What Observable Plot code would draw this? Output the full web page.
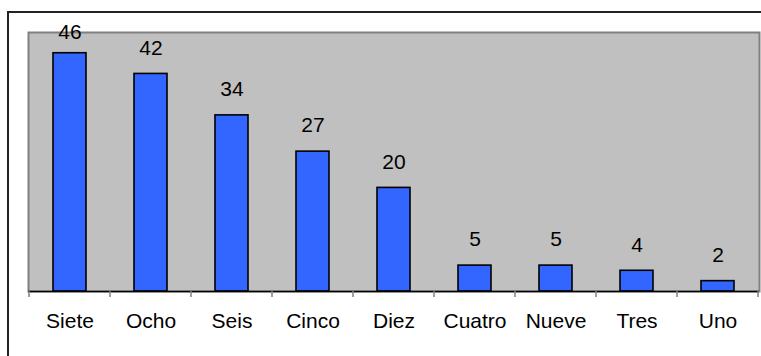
<!DOCTYPE html>
<html>
<head>
<meta charset="utf-8">
<script src="https://cdn.jsdelivr.net/npm/d3@7"></script>
<script src="https://cdn.jsdelivr.net/npm/@observablehq/plot@0.6"></script>
<style>
  html, body { margin: 0; padding: 0; background: #fff; }
  #wrap { position: relative; width: 761px; height: 356px; overflow: hidden; }
  #outer { position: absolute; left: 7px; top: 11px; right: -5px; bottom: -5px;
           border-left: 2px solid #222; border-top: 2px solid #222; pointer-events: none; }
</style>
</head>
<body>
<div id="wrap"><div id="outer"></div></div>
<script>
const categories = ["Siete", "Ocho", "Seis", "Cinco", "Diez", "Cuatro", "Nueve", "Tres", "Uno"];
const values = [46, 42, 34, 27, 20, 5, 5, 4, 2];
const yDomain = [0, 50];

const data = categories.map((c, i) => ({category: c, value: values[i]}));

// category boundary ticks, drawn through the band scale
function boundaryTicks(index, scales, vals, dims) {
  const g = d3.create("svg:g");
  const x = scales.x;
  const step = x.step ? x.step() : (dims.width - dims.marginLeft - dims.marginRight) / categories.length;
  const pad = (step - x.bandwidth()) / 2;
  const y0 = dims.height - dims.marginBottom;
  const xs = categories.map(c => x(c) - pad);
  xs.push(x(categories[categories.length - 1]) + x.bandwidth() + pad);
  for (const px of xs) {
    g.append("line")
      .attr("x1", px).attr("x2", px)
      .attr("y1", y0).attr("y2", y0 + 6)
      .attr("stroke", "#808080").attr("stroke-width", 1.5);
  }
  return g.node();
}

const chart = Plot.plot({
  width: 761,
  height: 356,
  marginLeft: 28,
  marginRight: 2,
  marginTop: 32,
  marginBottom: 65,
  style: {fontFamily: "'Liberation Sans', Arial, sans-serif", fontSize: "21px", background: "transparent", color: "#000"},
  x: {domain: categories, paddingInner: 0.59, paddingOuter: 0.295, label: null, tickSize: 0, tickPadding: 22},
  y: {domain: yDomain, axis: null},
  marks: [
    Plot.frame({fill: "#C0C0C0", stroke: "#808080", strokeWidth: 2}),
    Plot.barY(data, {x: "category", y: "value", fill: "#3366FF", stroke: "#000", strokeWidth: 1.6}),
    Plot.ruleY([0], {stroke: "#000", strokeWidth: 1.5}),
    boundaryTicks,
    Plot.text(data, {x: "category", y: d => Math.min(d.value, 45), text: d => String(d.value), dy: -26, fill: "#000", fontSize: 21})
  ]
});
document.getElementById("wrap").prepend(chart);
</script>
</body>
</html>
